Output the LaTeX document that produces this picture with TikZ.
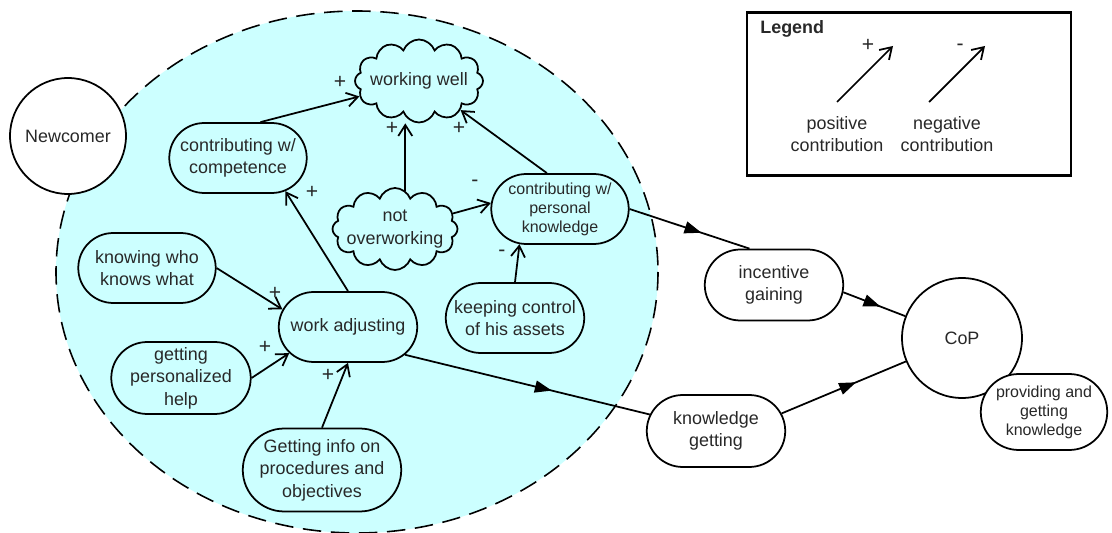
\documentclass[tikz,border=0pt]{standalone}
\usepackage{fontspec}
\setmainfont{Liberation Sans}
\usetikzlibrary{shapes.misc,shapes.symbols,arrows.meta,decorations.markings}
\definecolor{cyanfill}{RGB}{204,255,255}
\definecolor{ink}{RGB}{40,40,40}

\begin{document}
\begin{tikzpicture}[x=0.02cm,y=-0.02cm,
    >={Straight Barb[length=2.2mm,width=2.8mm]},
    every node/.style={text=ink, align=center, font=\fontsize{10.2}{12.8}\selectfont},
    pill/.style={rounded rectangle, draw, line width=1pt, inner sep=1pt, minimum width=2.82cm, minimum height=1.4cm},
    puff/.style={cloud, cloud puffs=12, cloud puff arc=140, cloud ignores aspect, draw, line width=1pt, inner xsep=-7pt, inner ysep=-2pt},
    actor/.style={circle, draw, line width=1pt, fill=white, inner sep=1pt},
    small/.style={font=\fontsize{9.1}{10.8}\selectfont},
    sign/.style={inner sep=0pt, font=\fontsize{12}{13}\selectfont},
    contrib/.style={->, line width=1pt},
    flow/.style={line width=1pt, postaction={decorate},
        decoration={markings, mark=at position 0.6 with {\arrow{Triangle[length=3.4mm,width=2.4mm]}}}}]

    \useasboundingbox (0,0) rectangle (1112,533);
    \fill[white] (0,0) rectangle (1112,533);

    % newcomer's area
    \draw[fill=cyanfill, line width=0.9pt, dash pattern=on 10.5pt off 5.5pt] (357,272) ellipse [x radius=301, y radius=261];

    \node[actor, minimum size=2.32cm] (New) at (68,136) {Newcomer};
    \node[puff, minimum width=2.56cm, minimum height=1.66cm] (WW) at (419,81) {working well};
    \node[pill] (Comp) at (238,158) {contributing w/\\competence};
    \node[puff, minimum width=2.5cm, minimum height=1.64cm] (NoOv) at (395,229) {not\\overworking};
    \node[pill, small] (Pers) at (560,209) {contributing w/\\personal\\knowledge};
    \node[pill] (Know) at (147,268) {knowing who\\knows what};
    \node[pill, minimum width=2.84cm] (WAdj) at (348,327) {work adjusting};
    \node[pill, minimum width=2.84cm] (Keep) at (515,318) {keeping control\\of his assets};
    \node[pill, minimum width=2.86cm, minimum height=1.44cm] (Help) at (181,378) {getting\\personalized\\help};
    \node[pill, minimum width=3.24cm, minimum height=1.66cm] (Info) at (322,470) {Getting info on\\procedures and\\objectives};

    \node[pill, fill=white, minimum width=2.84cm, minimum height=1.42cm] (Inc) at (774,285) {incentive\\gaining};
    \node[pill, fill=white, minimum width=2.84cm, minimum height=1.44cm] (KGet) at (716,431) {knowledge\\getting};
    \node[actor, minimum size=2.4cm] (CoP) at (962,338) {CoP};
    \node[pill, small, fill=white, minimum width=2.6cm, minimum height=1.52cm] (Prov) at (1044,412) {providing and\\getting\\knowledge};

    % contributions
    \draw[contrib] (Comp.58) -- (WW);
    \draw[contrib] (NoOv.75) -- (NoOv.75 |- WW.south);
    \draw[contrib] (Pers.110) -- (WW.-35);
    \draw[contrib] (NoOv.15) -- (Pers.175);
    \draw[contrib] (Keep.north) -- (Pers.-139);
    \draw[contrib] (WAdj.north) -- (Comp.-35);
    \draw[contrib] (Know.east) -- (WAdj.165);
    \draw[contrib] (Help.east) -- (WAdj.204);
    \draw[contrib] (Info.north) -- (WAdj.south);

    \node[sign] (s1) at (340,82) {+};
    \node[sign] (s2) at (392,128) {+};
    \node[sign] (s3) at (459,128) {+};
    \node[sign] (s4) at (475,183) {-};
    \node[sign] (s5) at (312,192) {+};
    \node[sign] (s6) at (502,253) {-};
    \node[sign] (s7) at (275,293) {+};
    \node[sign] (s8) at (265,347) {+};
    \node[sign] (s9) at (328,375) {+};

    % flows to the CoP
    \draw[flow] (Pers.east) -- (Inc.124);
    \draw[flow] (WAdj.-26) -- (KGet.166);
    \draw[flow] (Inc.-6) -- (CoP);
    \draw[flow] (KGet.15) -- (CoP);

    % legend
    \node[draw, line width=1.2pt, minimum width=6.48cm, minimum height=3.26cm] (Leg) at (909,94) {};
    \node[anchor=west, inner sep=0pt, font=\fontsize{10.2}{12.8}\selectfont\bfseries] (LegT) at (760,29) {Legend};
    \coordinate (lp1) at (837,102);
    \coordinate (lp2) at (893,46);
    \coordinate (ln1) at (929,102);
    \coordinate (ln2) at (985,46);
    \draw[contrib] (lp1) -- (lp2);
    \draw[contrib] (ln1) -- (ln2);
    \node[sign] (lps) at (868,45) {+};
    \node[sign] (lns) at (960,47) {-};
    \node (lpt) at (837,134) {positive\\contribution};
    \node (lnt) at (947,134) {negative\\contribution};
\end{tikzpicture}
\end{document}
